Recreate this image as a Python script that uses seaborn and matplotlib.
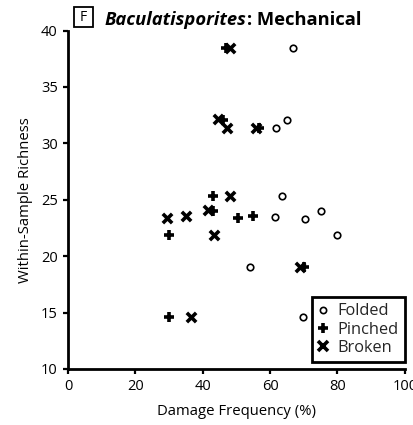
import matplotlib
matplotlib.use("Agg")
import matplotlib.pyplot as plt
import seaborn as sns
import pandas as pd
from matplotlib.lines import Line2D
from matplotlib.patches import Rectangle

# Damage frequency (%) and within-sample richness per damage type
folded_x = [66.7, 65.0, 61.7, 63.4, 61.6, 70.4, 75.0, 79.9, 54.1, 69.9]
folded_y = [38.5, 32.1, 31.4, 25.3, 23.5, 23.3, 24.0, 21.9, 19.0, 14.6]
pinched_x = [46.8, 46.0, 56.8, 43.0, 43.0, 50.6, 54.8, 29.9, 70.1, 29.9]
pinched_y = [38.5, 32.1, 31.4, 25.3, 24.0, 23.4, 23.6, 21.9, 19.0, 14.6]
broken_x = [48.0, 44.5, 47.3, 55.7, 48.1, 29.4, 34.9, 41.5, 43.2, 68.9, 36.4]
broken_y = [38.5, 32.2, 31.4, 31.4, 25.3, 23.4, 23.6, 24.1, 21.9, 19.0, 14.6]

x_ticks = [0, 20, 40, 60, 80, 100]
y_ticks = [10, 15, 20, 25, 30, 35, 40]

df = pd.concat([
    pd.DataFrame({"freq": folded_x, "rich": folded_y, "type": "Folded"}),
    pd.DataFrame({"freq": pinched_x, "rich": pinched_y, "type": "Pinched"}),
    pd.DataFrame({"freq": broken_x, "rich": broken_y, "type": "Broken"}),
], ignore_index=True)

sns.set_theme(style="ticks")
plt.rcParams["font.family"] = ["Open Sans", "DejaVu Sans"]

W, H = 413, 425
fig = plt.figure(figsize=(W / 100, H / 100), dpi=100)
ax = fig.add_axes([0.165, 0.132, 0.815, 0.796])

sub = df[df["type"] == "Folded"]
sns.scatterplot(data=sub, x="freq", y="rich", ax=ax, marker="o", s=22,
                facecolor="white", edgecolor="black", linewidth=1.2, zorder=3)
sub = df[df["type"] == "Pinched"]
sns.scatterplot(data=sub, x="freq", y="rich", ax=ax, marker="+", s=55,
                color="black", linewidth=2.6, zorder=3)
sub = df[df["type"] == "Broken"]
sns.scatterplot(data=sub, x="freq", y="rich", ax=ax, marker="x", s=45,
                color="black", linewidth=2.6, zorder=3)

ax.set_xlim(0, 100)
ax.set_ylim(10, 40)
ax.set_xticks(x_ticks)
ax.set_yticks(y_ticks)
ax.tick_params(axis="both", labelsize=10.5, width=1.6, length=3.5, color="black",
               labelcolor="black")
ax.tick_params(axis="y", pad=4)
ax.tick_params(axis="x", pad=4)
sns.despine(ax=ax)
for side in ("left", "bottom"):
    ax.spines[side].set_linewidth(2.0)
    ax.spines[side].set_color("black")
ax.set_xlabel("Damage Frequency (%)", fontsize=10.7, color="black", labelpad=7)
ax.set_ylabel("Within-Sample Richness", fontsize=10.7, color="black", labelpad=6)

handles = [
    Line2D([], [], linestyle="none", marker="o", markersize=4.5,
           markerfacecolor="white", markeredgecolor="black", markeredgewidth=1.2),
    Line2D([], [], linestyle="none", marker="+", markersize=7.5,
           color="black", markeredgewidth=2.6),
    Line2D([], [], linestyle="none", marker="x", markersize=6.5,
           color="black", markeredgewidth=2.6),
]
leg = ax.legend(handles, ["Folded", "Pinched", "Broken"], loc="lower right",
                bbox_to_anchor=(1.0, 0.02), borderaxespad=0, fontsize=11.8,
                frameon=True, fancybox=False, handlelength=0.6,
                handletextpad=0.55, labelspacing=0.14, borderpad=0.38)
frame = leg.get_frame()
frame.set_edgecolor("black")
frame.set_linewidth(2.0)
frame.set_alpha(1)

# Panel label in a square box, then the title
fig.patches.append(Rectangle((73.5 / W, 1 - 27 / H), 19 / W, 19.5 / H,
                             transform=fig.transFigure, fill=False,
                             edgecolor="black", linewidth=1.3))
fig.text(83 / W, 1 - 17.5 / H, "F", fontsize=10, ha="center", va="center",
         color="black")
t1 = fig.text(105 / W, 1 - 25 / H, "Baculatisporites", fontsize=13.2,
              fontstyle="italic", fontweight="bold", va="baseline",
              color="black")
fig.canvas.draw()
bb = t1.get_window_extent()
fig.text(bb.x1 / fig.bbox.width, 1 - 25 / H, ": Mechanical", fontsize=13.2,
         fontweight="bold", va="baseline", color="black")

fig.savefig("out.png", dpi=100)
